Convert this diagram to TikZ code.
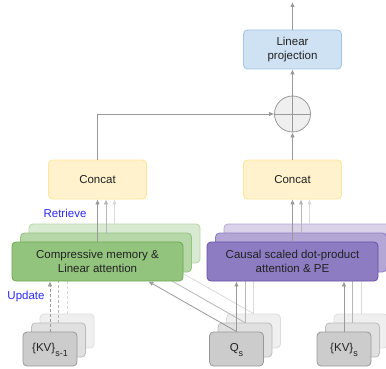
\documentclass[tikz,border=0pt]{standalone}
\usepackage{fontspec}
\setmainfont{Liberation Sans}
\usetikzlibrary{arrows.meta,calc}
\definecolor{txt}{HTML}{212121}
\definecolor{bluetxt}{HTML}{2A2AF5}
\definecolor{lpfill}{HTML}{CFE2F3}
\definecolor{lpdraw}{HTML}{9FC5E8}
\definecolor{yfill}{HTML}{FFF2CC}
\definecolor{ydraw}{HTML}{FFE599}
\definecolor{gA}{HTML}{93C47D}
\definecolor{gAd}{HTML}{6AA84F}
\definecolor{gB}{HTML}{B6D7A8}
\definecolor{gBd}{HTML}{93C47D}
\definecolor{gC}{HTML}{D9EAD3}
\definecolor{gCd}{HTML}{B6D7A8}
\definecolor{pA}{HTML}{8E7CC3}
\definecolor{pAd}{HTML}{674EA7}
\definecolor{pB}{HTML}{B4A7D6}
\definecolor{pBd}{HTML}{8E7CC3}
\definecolor{pC}{HTML}{D9D2E9}
\definecolor{pCd}{HTML}{B4A7D6}
\definecolor{kA}{HTML}{CCCCCC}
\definecolor{kAd}{HTML}{999999}
\definecolor{kB}{HTML}{E0E0E0}
\definecolor{kBd}{HTML}{BBBBBB}
\definecolor{kC}{HTML}{EFEFEF}
\definecolor{kCd}{HTML}{DDDDDD}
\definecolor{aA}{HTML}{999999}
\definecolor{aB}{HTML}{B7B7B7}
\definecolor{aC}{HTML}{D9D9D9}
\begin{document}
\begin{tikzpicture}[x=1pt,y=-1pt,
  font=\fontsize{11.5}{14}\selectfont,
  box/.style={draw, rounded corners=4pt, line width=0.8pt, align=center, inner sep=0pt, text=txt},
  bigbox/.style={box, minimum width=171pt, minimum height=39pt},
  smallbox/.style={box, minimum width=54pt, minimum height=34pt},
  midbox/.style={box, minimum width=98pt, minimum height=39pt},
  arr/.style={-{Latex[length=5pt,width=4.5pt]}, line width=0.8pt},
  dashln/.style={dash pattern=on 3pt off 2pt}]
\useasboundingbox (0,0) rectangle (386,369);
% ---------- back layer ----------
\node[bigbox, fill=gC, draw=gCd] (gc) at (114.5,243.5) {};
\node[bigbox, fill=pC, draw=pCd] (pc) at (309.5,243.5) {};
\node[smallbox, fill=kC, draw=kCd] (kc) at (67,331) {};
\node[smallbox, fill=kC, draw=kCd] (qc) at (253.5,331) {};
\node[smallbox, fill=kC, draw=kCd] (vc) at (361,331) {};
% ---------- top part ----------
\node[midbox, fill=yfill, draw=ydraw] (cl) at (97.5,179.5) {Concat};
\node[midbox, fill=yfill, draw=ydraw] (cr) at (292.5,179.5) {Concat};
\node[midbox, fill=lpfill, draw=lpdraw] (lp) at (292.5,49.5) {Linear\\projection};
\node[circle, draw=aA, fill=kC, line width=0.8pt, minimum size=36pt, inner sep=0pt] (sum) at (292.5,114) {};
\draw[aA, line width=0.8pt] (sum.north) -- (sum.south) (sum.west) -- (sum.east);
\coordinate (out) at (292.5,2);
\draw[arr, aA] (lp.north) -- (out);
\draw[arr, aA] (sum.north) -- (lp.south);
\draw[arr, aA] (cr.north) -- (sum.south);
\draw[arr, aA] (cl.north) |- (sum.west);
% back connectors
\draw[arr, aC] (gc.north) -- (gc.north |- cl.south);
\draw[arr, aC] (pc.north) -- (pc.north |- cr.south);
\draw[arr, aC, dashln] (kc.north) -- (kc.north |- gc.south);
\draw[arr, aC] (qc.north) -- (qc.north |- pc.south);
\draw[arr, aC] (vc.north) -- (vc.north |- pc.south);
\coordinate (gcin) at ($(gc.south east)+(-35,0)$);
\draw[arr, aC] (qc.north) -- (gcin);
% ---------- middle layer ----------
\node[bigbox, fill=gB, draw=gBd] (gb) at (106,252.5) {};
\node[bigbox, fill=pB, draw=pBd] (pb) at (301,252.5) {};
\node[smallbox, fill=kB, draw=kBd] (kb) at (58.5,340) {};
\node[smallbox, fill=kB, draw=kBd] (qb) at (245,340) {};
\node[smallbox, fill=kB, draw=kBd] (vb) at (352.5,340) {};
\draw[arr, aB] (gb.north) -- (gb.north |- cl.south);
\draw[arr, aB] (pb.north) -- (pb.north |- cr.south);
\draw[arr, aB, dashln] (kb.north) -- (kb.north |- gb.south);
\draw[arr, aB] (qb.north) -- (qb.north |- pb.south);
\draw[arr, aB] (vb.north) -- (vb.north |- pb.south);
\coordinate (gbin) at ($(gb.south east)+(-35,0)$);
\draw[arr, aB] (qb.north) -- (gbin);
% ---------- front layer ----------
\node[bigbox, fill=gA, draw=gAd] (ga) at (97.5,261.5) {Compressive memory \&\\Linear attention};
\node[bigbox, fill=pA, draw=pAd] (pa) at (292.5,261.5) {Causal scaled dot-product\\attention \& PE};
\node[smallbox, fill=kA, draw=kAd] (ka) at (50,349) {\{KV\}\raisebox{-5pt}[0pt][0pt]{\fontsize{9}{9}\selectfont s-1}};
\node[smallbox, fill=kA, draw=kAd] (qa) at (236.5,349) {Q\raisebox{-5pt}[0pt][0pt]{\fontsize{9}{9}\selectfont s}};
\node[smallbox, fill=kA, draw=kAd] (va) at (344,349) {\{KV\}\raisebox{-5pt}[0pt][0pt]{\fontsize{9}{9}\selectfont s}};
\draw[arr, aA] (ga.north) -- (ga.north |- cl.south);
\draw[arr, aA] (pa.north) -- (pa.north |- cr.south);
\draw[arr, aA, dashln] (ka.north) -- (ka.north |- ga.south);
\draw[arr, aA] (qa.north) -- (qa.north |- pa.south);
\draw[arr, aA] (va.north) -- (va.north |- pa.south);
\coordinate (gain) at ($(ga.south east)+(-35,0)$);
\draw[arr, aA] (qa.north) -- (gain);
% labels
\node[text=bluetxt, inner sep=0pt] (retrieve) at (65,213) {Retrieve};
\node[text=bluetxt, inner sep=0pt] (update) at (26,297) {Update};
\end{tikzpicture}
\end{document}
